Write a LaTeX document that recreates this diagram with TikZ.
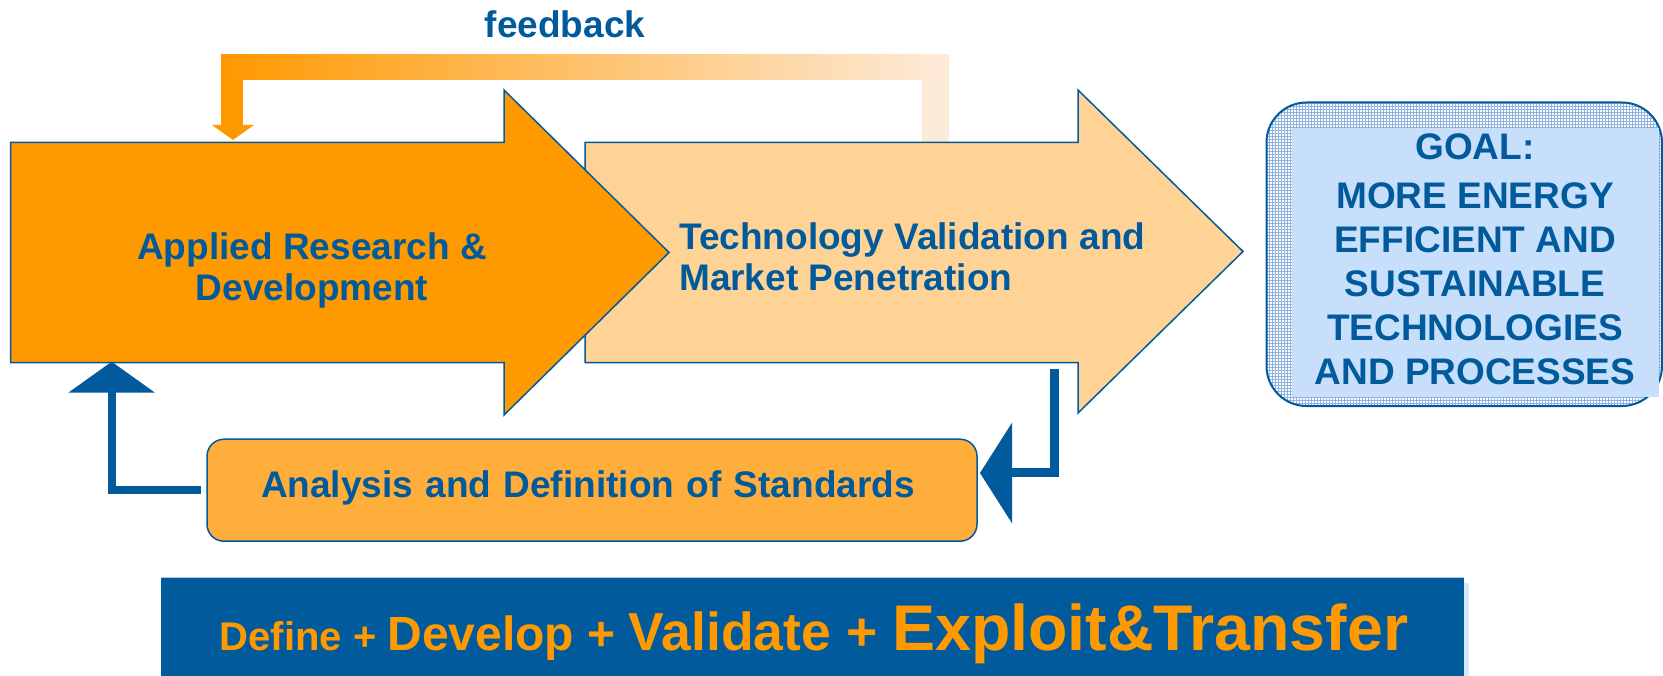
\documentclass[tikz,border=0pt]{standalone}
\usepackage{fontspec}
\setmainfont{Liberation Sans}
\usetikzlibrary{patterns}
\definecolor{dblue}{HTML}{005A9C}
\definecolor{orng}{HTML}{FF9900}
\definecolor{peach}{HTML}{FFD395}
\definecolor{lorng}{HTML}{FFAD3B}
\definecolor{fbend}{HTML}{FDEBDA}
\definecolor{goalin}{HTML}{C8DFFC}
\definecolor{gridc}{HTML}{8FB3DE}
\definecolor{shadowc}{HTML}{D2E9FF}
\definecolor{topline}{HTML}{A8C8E8}
\begin{document}
\begin{tikzpicture}[x=1pt,y=-1pt,
  lbl/.style={text=dblue, font=\bfseries\fontsize{37}{41}\selectfont, inner sep=0pt},
  bigarrow/.style={draw=dblue, line width=1.5pt, line join=miter},
  bluestem/.style={draw=dblue, line width=8.5pt, line join=miter},
  bluehead/.style={fill=dblue},
]
\useasboundingbox (0,0) rectangle (1663,676);

% feedback loop
\coordinate (fbstart) at (935.5,142);
\coordinate (fbend) at (232,125);
\fill[fbend] (922,55) rectangle (949,142);
\fill[orng] (221,55) rectangle (243,126);
\shade[left color=orng, right color=fbend] (221,55) rectangle (949,80);
\fill[orng] (212,125) -- (254,125) -- (233,140) -- cycle;
\node[lbl, anchor=base] (fb) at (565,37.7) {feedback};

% big arrows
\draw[bigarrow, fill=peach] (585,142.5) -- (1078,142.5) -- (1078,90) -- (1243,251.5) -- (1078,413) -- (1078,362.5) -- (585,362.5) -- cycle;
\draw[bigarrow, fill=orng] (10.5,142.5) -- (504,142.5) -- (504,90) -- (669,252.5) -- (504,415) -- (504,362.5) -- (10.5,362.5) -- cycle;
\node[lbl, align=center] (ard) at (312,270.2) {Applied Research \&\\Development};
\node[lbl, align=left, anchor=west] (tvm) at (679,256.5) {Technology Validation and\\Market Penetration};

% analysis box
\node[lbl, draw=dblue, line width=1.5pt, fill=lorng, rounded corners=17pt, text depth=12pt,
  minimum width=770pt, minimum height=102pt, text width=662pt, inner xsep=54pt, align=left] (ads) at (592,490.2) {Analysis and Definition of Standards};

% blue connectors
\coordinate (r1) at (1054.3,369);
\coordinate (r2) at (1011,472.5);
\draw[bluestem] (r1) |- (r2);
\fill[bluehead] (1012,422.7) -- (1012,523.3) -- (980,473) -- cycle;
\coordinate (l1) at (201,490);
\coordinate (l2) at (111.9,391);
\draw[bluestem] (l1) -| (l2);
\fill[bluehead] (68.3,392.7) -- (155,392.7) -- (111.7,361.7) -- cycle;

% goal box
\draw[dblue, line width=2pt, rounded corners=40pt, preaction={fill=white}, pattern=grid, pattern color=gridc] (1266.5,102.5) rectangle (1662,406);
\fill[goalin] (1292,128) rectangle (1659,397);
\node[lbl, align=center, font=\bfseries\fontsize{37}{44}\selectfont] (goal) at (1475,259.5) {GOAL:\\[4.5pt]MORE ENERGY\\EFFICIENT AND\\SUSTAINABLE\\TECHNOLOGIES\\AND PROCESSES};

% banner
\fill[shadowc] (1464,583) rectangle (1468.5,676);
\node[fill=dblue, inner sep=0pt, minimum width=1303pt, minimum height=99pt, anchor=north west] (banner) at (161,577.5) {};
\draw[topline, line width=1pt] (banner.north west) -- (banner.north east);
\node[anchor=base west, inner sep=0pt, text=orng, font=\bfseries] (bt) at (219.5,650) {{\fontsize{40}{40}\selectfont Define + }{\fontsize{48}{48}\selectfont Develop + }{\fontsize{53.5}{53.5}\selectfont Validate + }{\fontsize{64.5}{64.5}\selectfont Exploit\&Transfer}};
\end{tikzpicture}
\end{document}
